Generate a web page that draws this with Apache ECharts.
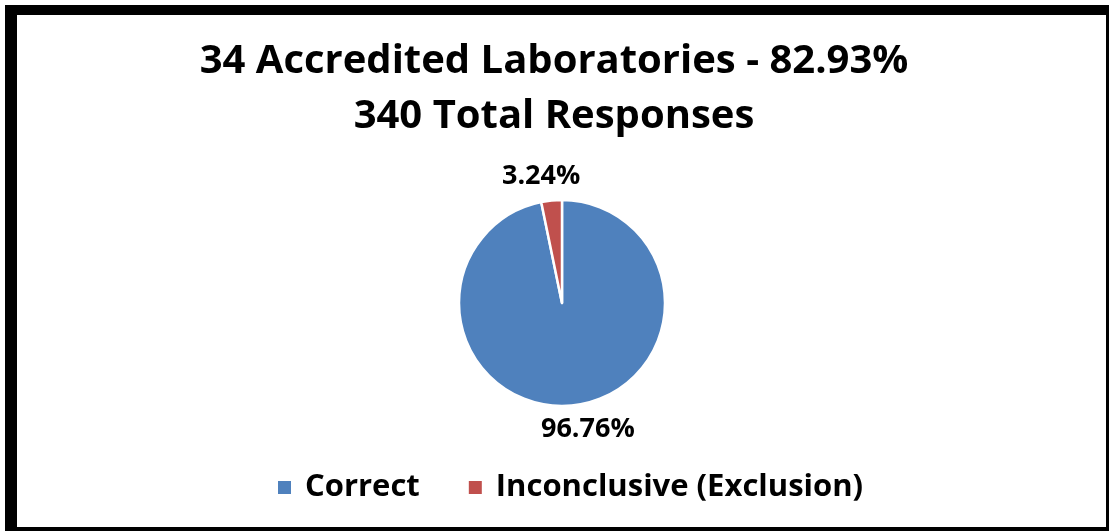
<!DOCTYPE html>
<html>
  <head>
    <meta charset="utf-8" />
    <title>Accredited Laboratories</title>
    <script src="https://cdn.jsdelivr.net/npm/echarts@6/dist/echarts.min.js"></script>
    <style>
      body { margin: 0; overflow: hidden; background: #fff; }
      #main { position: absolute; left: 0; top: 0; width: 1109px; height: 531px; }
      #frame {
        position: absolute; left: 5px; top: 5px; width: 1111px; height: 532px;
        box-sizing: border-box; border: 10px solid #000; border-left-width: 12px;
        pointer-events: none;
      }
    </style>
  </head>
  <body>
    <div id="main"></div>
    <div id="frame"></div>
    <script type="text/javascript">
      // data
      var titleLines = ["34 Accredited Laboratories - 82.93%", "340 Total Responses"];
      var categories = ["Correct", "Inconclusive (Exclusion)"];
      var responses = [329, 11];
      var colors = ["#4F81BD", "#C0504D"];

      var FONT = "Open Sans";
      var cx = 562, cy = 303, radius = 103;
      var total = responses.reduce(function (a, b) { return a + b; }, 0);

      // mid angle of each slice, clockwise from 12 o'clock
      var midAngles = [];
      var acc = 0;
      responses.forEach(function (v) {
        midAngles.push(((acc + v / 2) / total) * 2 * Math.PI);
        acc += v;
      });

      var myChart = echarts.init(document.getElementById("main"), null, { renderer: "canvas" });

      var option = {
        animation: false,
        color: colors,
        title: {
          text: titleLines.join("\n"),
          left: 549,
          top: 29,
          textAlign: "center",
          textStyle: {
            fontFamily: FONT,
            fontWeight: "bold",
            fontSize: 40,
            lineHeight: 55,
            color: "#000"
          }
        },
        legend: {
          bottom: 23,
          left: 271,
          icon: "rect",
          itemWidth: 15,
          itemHeight: 15,
          itemGap: 47,
          textStyle: {
            fontFamily: FONT,
            fontWeight: "bold",
            fontSize: 31,
            color: "#000",
            padding: [0, 0, 0, 8]
          },
          data: categories
        },
        series: [
          {
            type: "pie",
            center: [cx, cy],
            radius: radius,
            startAngle: 90,
            clockwise: true,
            itemStyle: { borderColor: "#fff", borderWidth: 2.5 },
            label: {
              show: true,
              position: "outside",
              fontFamily: FONT,
              fontWeight: "bold",
              fontSize: 27,
              color: "#000",
              formatter: function (p) {
                return ((p.value / total) * 100).toFixed(2) + "%";
              }
            },
            labelLine: { show: false },
            labelLayout: function (p) {
              var a = midAngles[p.dataIndex];
              var s = Math.sin(a);
              var r = radius + 24;
              return {
                x: cx + s * r + (s < 0 ? -8 : 13),
                y: cy - Math.cos(a) * r,
                align: "center",
                verticalAlign: "middle"
              };
            },
            data: categories.map(function (c, i) {
              return { name: c, value: responses[i] };
            })
          }
        ]
      };

      myChart.setOption(option);
    </script>
  </body>
</html>
